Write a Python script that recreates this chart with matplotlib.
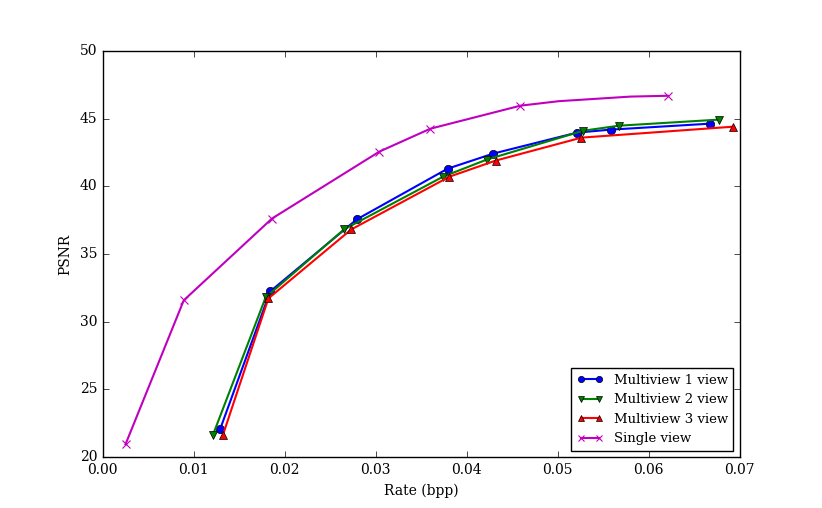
import matplotlib
matplotlib.use('Agg')
import matplotlib.pyplot as plt

# --- Data (rate in bpp, PSNR in dB) ---
mv1_rate = [0.0129, 0.0184, 0.0279, 0.0379, 0.0429, 0.0521, 0.0558, 0.0667]
mv1_psnr = [22.07, 32.24, 37.55, 41.30, 42.41, 43.96, 44.18, 44.62]

mv2_rate = [0.0121, 0.0179, 0.0265, 0.0374, 0.0422, 0.0528, 0.0567, 0.0677]
mv2_psnr = [21.63, 31.80, 36.81, 40.71, 41.97, 44.10, 44.47, 44.92]

mv3_rate = [0.0132, 0.0182, 0.0273, 0.0381, 0.0432, 0.0526, 0.0693]
mv3_psnr = [21.63, 31.72, 36.81, 40.71, 41.90, 43.59, 44.40]

# single view: two vertices near the end carry no marker in the reference
sv_rate = [0.0025, 0.0089, 0.0186, 0.0304, 0.0360, 0.0459, 0.0501, 0.0580, 0.0621]
sv_psnr = [20.95, 31.58, 37.62, 42.56, 44.25, 45.95, 46.28, 46.62, 46.68]
sv_marks = [0, 1, 2, 3, 4, 5, 8]

plt.style.use('classic')
plt.rcParams['font.family'] = 'serif'
plt.rcParams['font.serif'] = ['DejaVu Serif']
plt.rcParams['font.size'] = 10

fig = plt.figure(figsize=(8.22, 5.08), dpi=100)
ax = fig.add_subplot(111)

ax.plot(mv1_rate, mv1_psnr, 'b-o', lw=1.5, label='Multiview 1 view')
ax.plot(mv2_rate, mv2_psnr, 'g-v', lw=1.5, label='Multiview 2 view')
ax.plot(mv3_rate, mv3_psnr, 'r-^', lw=1.5, label='Multiview 3 view')
ax.plot(sv_rate, sv_psnr, 'm-x', lw=1.5, mew=0.8, markevery=sv_marks, label='Single view')

ax.set_xlim(0, 0.07)
ax.set_ylim(20, 50)
ax.set_xlabel('Rate (bpp)')
ax.set_ylabel('PSNR')
ax.legend(loc='lower right', fontsize=9.5, numpoints=2, markerscale=0.75)

fig.subplots_adjust(left=0.125, right=0.9, bottom=0.1, top=0.9)
fig.savefig('out.png', dpi=100)
